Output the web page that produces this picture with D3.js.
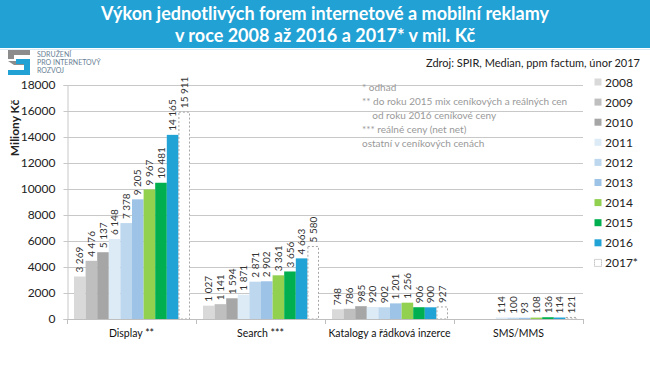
<!DOCTYPE html>
<html>
<head>
<meta charset="utf-8">
<script src="https://cdn.jsdelivr.net/npm/d3@7"></script>
<style>
  body { margin: 0; background: #fff; }
  svg { display: block; font-family: Lato, "Open Sans", sans-serif; }
</style>
</head>
<body>
<div id="chart"></div>
<script>
var categories = ["Display **", "Search ***", "Katalogy a řádková inzerce", "SMS/MMS"];
var years = ["2008", "2009", "2010", "2011", "2012", "2013", "2014", "2015", "2016", "2017*"];
var display_values = [3269, 4476, 5137, 6148, 7378, 9205, 9967, 10481, 14165, 15911];
var search_values = [1027, 1141, 1594, 1871, 2871, 2902, 3361, 3656, 4663, 5580];
var katalogy_values = [748, 786, 985, 920, 902, 1201, 1256, 906, 900, 927];
var sms_values = [null, null, null, 114, 100, 93, 108, 136, 114, 121];
var y_ticks = [0, 2000, 4000, 6000, 8000, 10000, 12000, 14000, 16000, 18000];
var year_colors = ["#d9d9d9", "#bfbfbf", "#a6a6a6", "#ddebf7", "#bdd7ee", "#9dc3e6", "#92d050", "#00b050", "#21a3d6", "#ffffff"];
var notes = ["* odhad", "** do roku 2015 mix ceníkových a reálných cen", "    od roku 2016 ceníkové ceny", "*** reálné ceny (net net)", "ostatní v ceníkových cenách"];

var series = [display_values, search_values, katalogy_values, sms_values];

var width = 650, height = 366;
var svg = d3.select("#chart").append("svg")
  .attr("width", width)
  .attr("height", height);

// title band
svg.append("rect")
  .attr("x", 0).attr("y", 0)
  .attr("width", width).attr("height", 48)
  .attr("fill", "#22a1d4");
svg.append("line")
  .attr("x1", 0).attr("x2", width)
  .attr("y1", 49.5).attr("y2", 49.5)
  .attr("stroke", "#d6ebf5");
svg.append("text")
  .attr("x", 325).attr("y", 20)
  .attr("text-anchor", "middle")
  .attr("fill", "#fff")
  .style("font", "bold 18px Lato, sans-serif")
  .text("Výkon jednotlivých forem internetové a mobilní reklamy");
svg.append("text")
  .attr("x", 325).attr("y", 42)
  .attr("text-anchor", "middle")
  .attr("fill", "#fff")
  .style("font", "bold 18px Lato, sans-serif")
  .text("v roce 2008 až 2016 a 2017* v mil. Kč");

// logo
var logo = svg.append("g").attr("transform", "translate(8,50)");
logo.append("path")
  .attr("d", "M0,0 H22 V5 H6 V9 H0 Z")
  .attr("fill", "#8c8c8c");
logo.append("path")
  .attr("d", "M0,11 H16 V15 H6 Z")
  .attr("fill", "#8c8c8c");
logo.append("path")
  .attr("d", "M8,9 H22 V25 H0 V20 H16 V14 H8 Z")
  .attr("fill", "#22a1d4");
var logo_text = ["SDRUŽENÍ", "PRO INTERNETOVÝ", "ROZVOJ"];
logo.selectAll("text.logo")
  .data(logo_text)
  .enter().append("text")
  .attr("x", 29)
  .attr("y", function(d, i) { return 7 + i * 8; })
  .attr("fill", "#6a7f95")
  .style("font", "7px Lato, sans-serif")
  .text(function(d) { return d; });

svg.append("text")
  .attr("x", 640).attr("y", 67)
  .attr("text-anchor", "end")
  .attr("fill", "#222")
  .style("font", "11px Lato, sans-serif")
  .text("Zdroj: SPIR, Median, ppm factum, únor 2017");

// scales
var x0 = 67, x1 = 583, y_bottom = 319, y_top = 85;
var x = d3.scaleBand().domain(categories).range([x0, x1]);
var xin = d3.scaleBand().domain(years).range([7, x.bandwidth() - 6]);
var y = d3.scaleLinear().domain([0, 18000]).range([y_bottom, y_top]);

// gridlines
svg.append("g")
  .selectAll("line")
  .data(y_ticks.slice(1))
  .enter().append("line")
  .attr("x1", x0).attr("x2", x1)
  .attr("y1", function(d) { return Math.round(y(d)) + 0.5; })
  .attr("y2", function(d) { return Math.round(y(d)) + 0.5; })
  .attr("stroke", "#c8c8c8");

// y axis
var yAxis = svg.append("g")
  .attr("transform", "translate(" + (x0 + 0.5) + ",0)")
  .call(d3.axisLeft(y).tickValues(y_ticks).tickSize(4).tickFormat(d3.format("d")));
yAxis.select(".domain").attr("stroke", "#c8c8c8");
yAxis.selectAll(".tick line").attr("stroke", "#c8c8c8");
yAxis.selectAll("text")
  .attr("x", -12)
  .attr("fill", "#222")
  .style("font", "12px Lato, sans-serif");

svg.append("text")
  .attr("transform", "translate(19,128) rotate(-90)")
  .attr("text-anchor", "middle")
  .attr("fill", "#222")
  .style("font", "bold 12px Lato, sans-serif")
  .text("Miliony Kč");

// bars
var fmt = function(v) { return d3.format(",")(v).replace(/,/g, "\u00a0"); };
var groups = svg.append("g").selectAll("g")
  .data(categories)
  .enter().append("g")
  .attr("transform", function(d) { return "translate(" + x(d) + ",0)"; });

groups.each(function(cat, ci) {
  var g = d3.select(this);
  var vals = series[ci].map(function(v, i) { return { year: years[i], value: v, idx: i }; })
    .filter(function(d) { return d.value !== null; });
  g.selectAll("rect")
    .data(vals)
    .enter().append("rect")
    .attr("x", function(d) { return xin(d.year) + (d.idx === 9 ? 0.5 : 0); })
    .attr("y", function(d) { return y(d.value); })
    .attr("width", function(d) { return xin.bandwidth() - (d.idx === 9 ? 1 : 0); })
    .attr("height", function(d) { return y(0) - y(d.value); })
    .attr("fill", function(d) { return year_colors[d.idx]; })
    .attr("stroke", function(d) { return d.idx === 9 ? "#a6a6a6" : "none"; })
    .attr("stroke-dasharray", "2,2");
  g.selectAll("text")
    .data(vals)
    .enter().append("text")
    .attr("transform", function(d) {
      return "translate(" + (xin(d.year) + xin.bandwidth() / 2 + 3.5) + "," + (y(d.value) - 4) + ") rotate(-90)";
    })
    .attr("fill", "#333")
    .style("font", "10px Lato, sans-serif")
    .text(function(d) { return fmt(d.value); });
});

// x axis
svg.append("line")
  .attr("x1", x0).attr("x2", x1)
  .attr("y1", y_bottom + 0.5).attr("y2", y_bottom + 0.5)
  .attr("stroke", "#bfbfbf");
svg.append("g").selectAll("line")
  .data(categories.concat(["end"]))
  .enter().append("line")
  .attr("x1", function(d, i) { return x0 + i * x.bandwidth() + 0.5; })
  .attr("x2", function(d, i) { return x0 + i * x.bandwidth() + 0.5; })
  .attr("y1", y_bottom).attr("y2", y_bottom + 5)
  .attr("stroke", "#bfbfbf");
svg.append("g").selectAll("text")
  .data(categories)
  .enter().append("text")
  .attr("x", function(d) { return x(d) + x.bandwidth() / 2; })
  .attr("y", 337)
  .attr("text-anchor", "middle")
  .attr("fill", "#111")
  .style("font", "10.5px Lato, sans-serif")
  .text(function(d) { return d; });

// notes
svg.append("g").selectAll("text")
  .data(notes)
  .enter().append("text")
  .attr("x", 362)
  .attr("y", function(d, i) { return 91 + i * 14; })
  .attr("fill", "#999")
  .attr("xml:space", "preserve")
  .style("white-space", "pre")
  .style("font", "10px Lato, sans-serif")
  .text(function(d) { return d; });

// legend
var legend = svg.append("g").selectAll("g")
  .data(years)
  .enter().append("g")
  .attr("transform", function(d, i) { return "translate(594," + (82 + i * 20.1) + ")"; });
legend.append("rect")
  .attr("x", 0.5).attr("y", -3.5)
  .attr("width", 7).attr("height", 7)
  .attr("fill", function(d, i) { return year_colors[i]; })
  .attr("stroke", function(d, i) { return i === 9 ? "#a6a6a6" : "none"; })
  .attr("stroke-dasharray", "1,1");
legend.append("text")
  .attr("x", 11).attr("y", 4.5)
  .attr("fill", "#222")
  .style("font", "12px Lato, sans-serif")
  .text(function(d) { return d; });
</script>
</body>
</html>
